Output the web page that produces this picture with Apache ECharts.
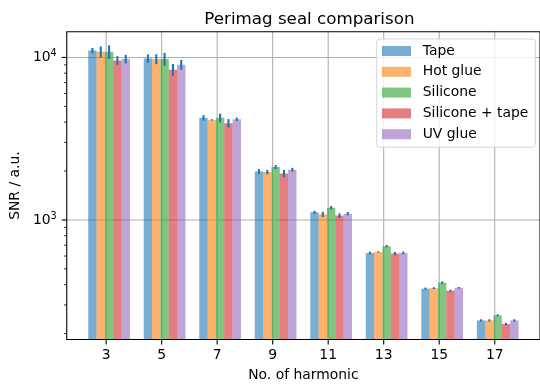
<!DOCTYPE html>
<html><head><meta charset="utf-8">
<script src="https://cdn.jsdelivr.net/npm/echarts@6/dist/echarts.min.js"></script>
<style>html,body{margin:0;padding:0;background:#fff}#c{width:540px;height:387px}</style>
</head><body><div id="c"></div>
<script>
// ---- data ----
const harmonics = ['3', '5', '7', '9', '11', '13', '15', '17'];
const seriesNames = ['Tape', 'Hot glue', 'Silicone', 'Silicone + tape', 'UV glue'];
const tape        = [11030, 9860, 4250, 1990, 1114, 627, 378, 241];
const hotGlue     = [10830, 9780, 4130, 1972, 1083, 636, 381, 241];
const silicone    = [10830, 9780, 4250, 2117, 1190, 689, 411, 259];
const siliconeTape= [9590, 8410, 3940, 1930, 1064, 621, 367, 229];
const uvGlue      = [9780, 9030, 4170, 2037, 1094, 627, 383, 241];
const errTape        = [410, 585, 165, 70, 25, 12, 6, 4];
const errHotGlue     = [860, 690, 40, 60, 40, 6, 5, 4];
const errSilicone    = [1040, 900, 265, 60, 30, 12, 8, 4];
const errSiliconeTape= [590, 710, 240, 100, 35, 15, 5, 4];
const errUvGlue      = [585, 630, 100, 55, 25, 12, 4, 4];
const yMajorTicks = [1000, 10000];
const yMinorTicks = [200, 300, 400, 500, 600, 700, 800, 900, 2000, 3000, 4000, 5000, 6000, 7000, 8000, 9000];

// ---- layout / style ----
const values = [tape, hotGlue, silicone, siliconeTape, uvGlue];
const errs = [errTape, errHotGlue, errSilicone, errSiliconeTape, errUvGlue];
const colors = ['rgba(31,119,180,0.6)', 'rgba(255,127,14,0.6)', 'rgba(44,160,44,0.6)', 'rgba(214,39,40,0.6)', 'rgba(148,103,189,0.6)'];
const FONT = 'DejaVu Sans';
const BAR_W = 0.15, GROUP_SHIFT = 0.053;
const X_MIN = -0.71, X_MAX = 7.8155, Y_MIN = 183.9, Y_MAX = 14405;
const xPos = harmonics.map((_, k) => k);
const off = i => GROUP_SHIFT + (i - 2) * BAR_W;

const series = [];
// grid lines (below bars)
series.push({
  type: 'custom', z: 1, silent: true, clip: false,
  data: xPos.map(k => [k, Y_MIN]),
  renderItem: (p, api) => {
    const cs = p.coordSys; const x = api.coord([api.value(0), Y_MIN])[0];
    return {type: 'line', shape: {x1: x, y1: cs.y, x2: x, y2: cs.y + cs.height}, style: {stroke: '#b0b0b0', lineWidth: 1.1}};
  }
});
series.push({
  type: 'custom', z: 1, silent: true, clip: false,
  data: yMajorTicks.map(v => [0, v]),
  renderItem: (p, api) => {
    const cs = p.coordSys; const y = api.coord([0, api.value(1)])[1];
    return {type: 'line', shape: {x1: cs.x, y1: y, x2: cs.x + cs.width, y2: y}, style: {stroke: '#b0b0b0', lineWidth: 1.1}};
  }
});
// bars
values.forEach((vals, i) => {
  series.push({
    name: seriesNames[i], type: 'bar', z: 2, barWidth: 8.4, barGap: '-100%',
    itemStyle: {color: colors[i]},
    emphasis: {disabled: true},
    data: vals.map((v, k) => [xPos[k] + off(i), v])
  });
});
// error bars
values.forEach((vals, i) => {
  series.push({
    type: 'custom', z: 3, silent: true, clip: false,
    data: vals.map((v, k) => [xPos[k] + off(i), v, errs[i][k]]),
    encode: {x: 0, y: 1},
    renderItem: (p, api) => {
      const x = api.value(0), v = api.value(1), e = api.value(2);
      const a = api.coord([x, v - e]), b = api.coord([x, v + e]);
      return {type: 'line', shape: {x1: a[0], y1: a[1], x2: b[0], y2: b[1]}, style: {stroke: '#1f77b4', lineWidth: 2.1}};
    }
  });
});
// frame + ticks (above bars)
series.push({
  type: 'custom', z: 5, silent: true, clip: false,
  data: [[0, 1000]],
  renderItem: (p, api) => {
    const cs = p.coordSys;
    return {type: 'rect', shape: {x: cs.x, y: cs.y, width: cs.width, height: cs.height}, style: {fill: 'none', stroke: '#000', lineWidth: 1.1}};
  }
});
series.push({
  type: 'custom', z: 5, silent: true, clip: false,
  data: xPos.map(k => [k, Y_MIN]),
  renderItem: (p, api) => {
    const cs = p.coordSys; const x = api.coord([api.value(0), Y_MIN])[0]; const yb = cs.y + cs.height;
    return {type: 'line', shape: {x1: x, y1: yb, x2: x, y2: yb + 4.9}, style: {stroke: '#000', lineWidth: 1.1}};
  }
});
series.push({
  type: 'custom', z: 5, silent: true, clip: false,
  data: yMajorTicks.map(v => [0, v, 4.9, 1.1]).concat(yMinorTicks.map(v => [0, v, 2.8, 0.8])),
  renderItem: (p, api) => {
    const cs = p.coordSys; const y = api.coord([0, api.value(1)])[1];
    return {type: 'line', shape: {x1: cs.x - api.value(2), y1: y, x2: cs.x, y2: y}, style: {stroke: '#000', lineWidth: api.value(3)}};
  }
});

const option = {
  animation: false,
  textStyle: {fontFamily: FONT},
  title: {
    text: 'Perimag seal comparison', left: 304.4, top: 6.5, textAlign: 'center',
    textStyle: {fontFamily: FONT, fontSize: 16.7, fontWeight: 'normal', color: '#000'}
  },
  grid: {left: 65.5, top: 31.7, right: -3.2, bottom: 44.7, containLabel: false},
  legend: {
    data: seriesNames, orient: 'vertical', left: 376.7, top: 39,
    itemWidth: 29, itemHeight: 10, itemGap: 6.8, icon: 'rect',
    padding: [5, 7, 6, 5.3],
    backgroundColor: 'rgba(255,255,255,0.8)', borderColor: 'rgba(204,204,204,0.8)', borderWidth: 1, borderRadius: 3,
    textStyle: {fontFamily: FONT, fontSize: 13.9, lineHeight: 14, color: '#000', padding: [0, 0, 0, 6.7]},
    selectedMode: false
  },
  xAxis: {
    type: 'value', min: X_MIN, max: X_MAX, splitNumber: 8,
    name: 'No. of harmonic', nameLocation: 'middle', nameGap: 28.5,
    nameTextStyle: {fontFamily: FONT, fontSize: 13.9, color: '#000'},
    axisLine: {show: false}, axisTick: {show: false}, splitLine: {show: false},
    axisLabel: {
      customValues: xPos, margin: 9, fontFamily: FONT, fontSize: 13.9, color: '#000',
      formatter: v => (Math.abs(v - Math.round(v)) < 1e-6 && harmonics[Math.round(v)]) ? harmonics[Math.round(v)] : ''
    }
  },
  yAxis: {
    type: 'log', logBase: 10, min: Y_MIN, max: Y_MAX,
    name: 'SNR / a.u.', nameLocation: 'middle', nameGap: 36, nameRotate: 90,
    nameTextStyle: {fontFamily: FONT, fontSize: 13.9, color: '#000'},
    axisLine: {show: false}, axisTick: {show: false}, splitLine: {show: false},
    axisLabel: {
      margin: 10, color: '#000',
      formatter: v => {
        const e = Math.log10(v);
        if (Math.abs(e - Math.round(e)) > 1e-6) return '';
        return '{m|10}{s|' + Math.round(e) + '}';
      },
      rich: {
        m: {fontFamily: FONT, fontSize: 13.9, lineHeight: 14, color: '#000'},
        s: {fontFamily: FONT, fontSize: 9.7, lineHeight: 10, color: '#000', padding: [0, 0, 7.6, 0]}
      }
    }
  },
  series: series
};
const chart = echarts.init(document.getElementById('c'), null, {renderer: 'canvas'});
chart.setOption(option);
</script>
</body></html>
